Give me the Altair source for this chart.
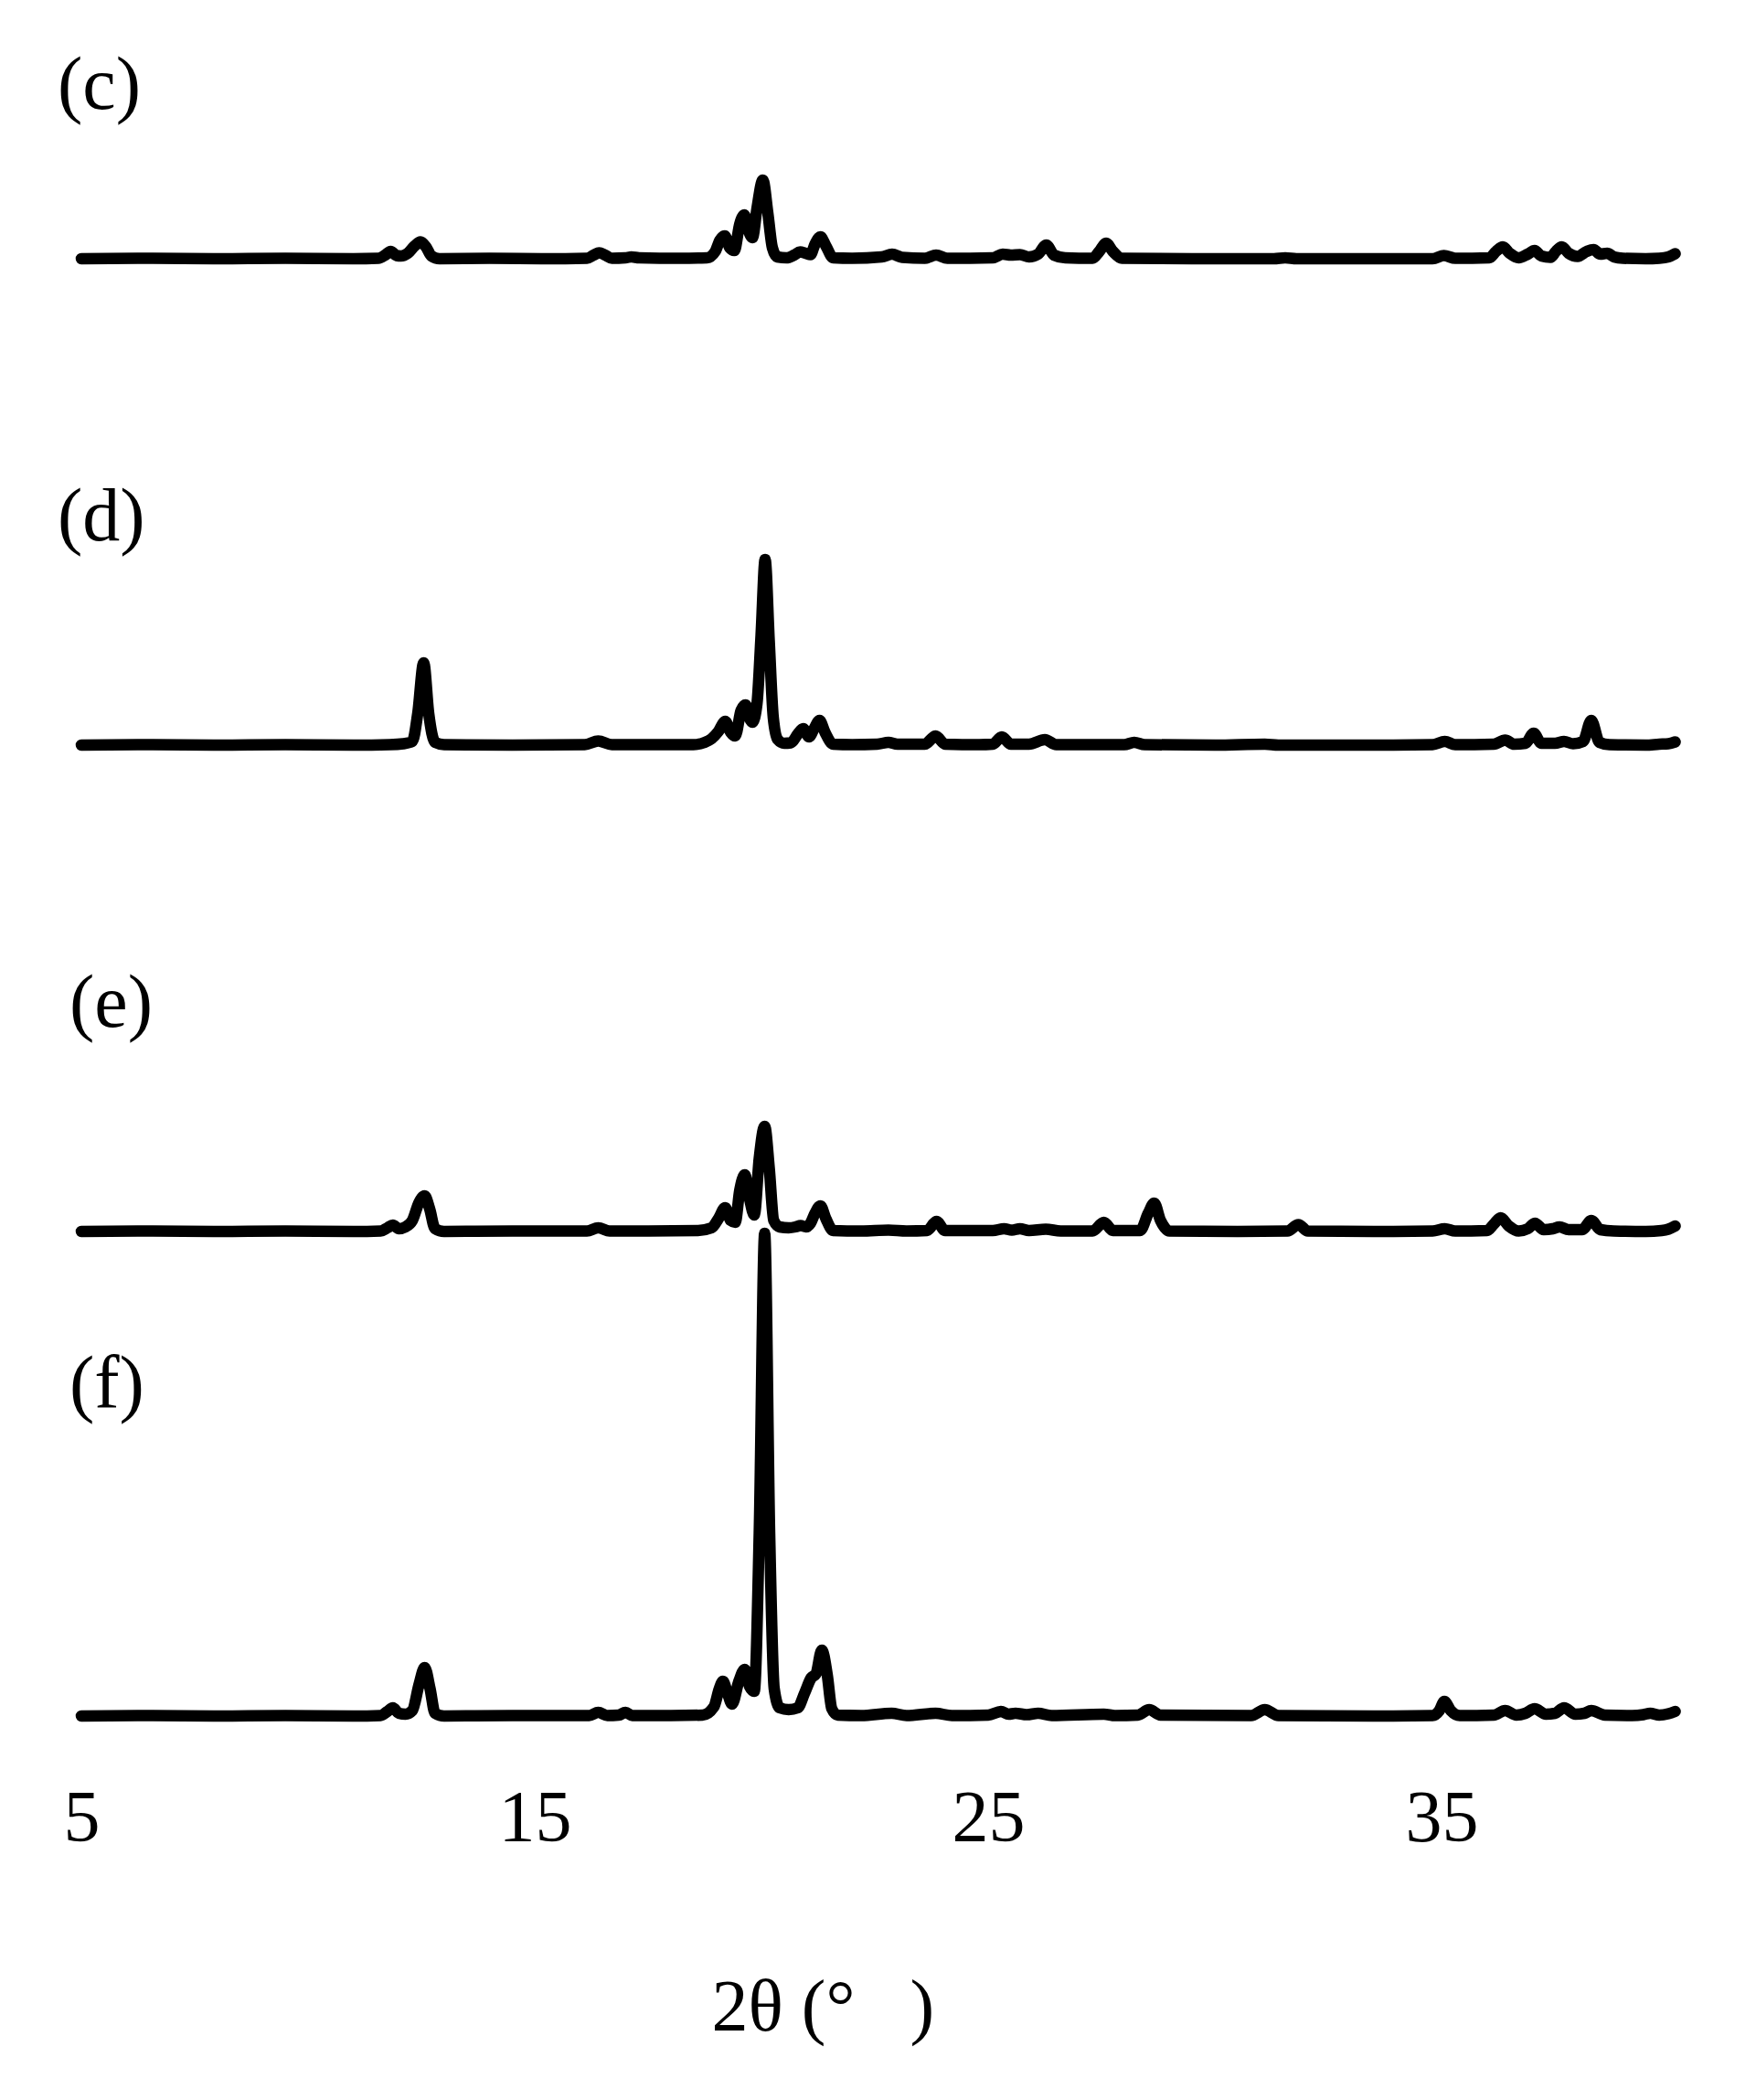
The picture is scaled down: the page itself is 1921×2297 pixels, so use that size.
import altair as alt
import pandas as pd

# 2-theta (deg) and intensity (arbitrary units)
c_x = [5.0, 6.5, 8.0, 9.5, 11.0, 11.55, 11.7, 11.82, 11.95, 12.05, 12.2, 12.35, 12.48, 12.6, 12.72, 12.9, 14.0, 15.2, 16.15, 16.3, 16.42, 16.55, 16.7, 17.0, 17.13, 17.3, 18.2, 18.8, 18.98, 19.08, 19.19, 19.3, 19.4, 19.52, 19.62, 19.72, 19.8, 19.9, 20.03, 20.14, 20.24, 20.35, 20.55, 20.72, 20.85, 20.97, 21.08, 21.18, 21.3, 21.42, 21.58, 22.0, 22.65, 22.88, 23.1, 23.6, 23.85, 24.1, 25.1, 25.32, 25.5, 25.7, 25.9, 26.1, 26.28, 26.45, 26.7, 27.3, 27.45, 27.6, 27.75, 27.95, 29.5, 31.3, 31.55, 31.8, 33.5, 34.8, 35.05, 35.3, 36.05, 36.2, 36.35, 36.5, 36.7, 36.9, 37.05, 37.2, 37.4, 37.52, 37.65, 37.8, 38.0, 38.2, 38.35, 38.5, 38.65, 38.8, 39.0, 39.5, 39.8, 40.0, 40.15]
c_y = [0, 0.5, 0, 0.5, 0, 0.5, 4, 8, 3.5, 3, 6, 14, 18.5, 13, 3, 0, 0.5, 0, 0.5, 4, 6.5, 4, 0.5, 1, 2, 1, 0.5, 1, 8, 20, 25, 12, 9, 38, 48, 30, 23, 55, 86, 50, 12, 2, 1, 4, 7.5, 6, 4.5, 16, 24, 14, 1, 0.5, 2, 5, 1.5, 0.5, 4, 0.5, 1, 5, 4, 4.5, 2, 5, 15, 4, 1, 0.5, 8, 17, 8, 0.5, 0, 0, 1, 0, 0, 0, 3.5, 0.5, 1, 8, 13, 6, 1, 5, 9, 3, 1.5, 8, 13, 6, 2.5, 8, 10, 5, 6, 2, 0.5, 0, 0.5, 2, 5.5]

d_x = [5.0, 6.5, 8.0, 9.5, 11.0, 11.8, 12.1, 12.3, 12.42, 12.55, 12.66, 12.8, 13.0, 14.5, 16.1, 16.4, 16.7, 17.5, 18.5, 18.75, 18.9, 19.05, 19.2, 19.32, 19.42, 19.55, 19.65, 19.73, 19.8, 19.9, 19.99, 20.08, 20.17, 20.26, 20.36, 20.5, 20.65, 20.8, 20.92, 21.05, 21.15, 21.28, 21.4, 21.58, 22.0, 22.55, 22.8, 23.0, 23.6, 23.84, 24.05, 24.8, 25.1, 25.3, 25.5, 25.9, 26.25, 26.5, 27.2, 28.0, 28.22, 28.45, 30.0, 31.1, 31.4, 33.5, 34.8, 35.07, 35.3, 36.15, 36.4, 36.6, 36.85, 37.03, 37.2, 37.5, 37.7, 37.9, 38.12, 38.3, 38.48, 38.7, 39.5, 39.8, 40.0, 40.15]
d_y = [0, 0.5, 0, 0.5, 0, 0.5, 1.5, 4, 35, 90, 35, 3, 0.5, 0, 0.5, 4.5, 0.5, 0.5, 0.5, 3, 7, 15, 26, 14, 10, 38, 44, 30, 25, 45, 120, 203, 115, 30, 6, 2, 2.5, 12, 18, 9, 17, 27, 14, 1, 0.5, 1, 3, 1, 1, 10, 1, 0.5, 1, 9, 1, 1, 6, 0.5, 0.5, 0.5, 3, 0.5, 0, 1, 0, 0, 0.5, 4, 0.5, 1, 5.5, 1, 2, 13, 2, 2, 4, 1.5, 4, 27, 3, 0.5, 0, 1, 1.5, 3.5]

e_x = [5.0, 6.5, 8.0, 9.5, 11.0, 11.6, 11.75, 11.87, 12.0, 12.15, 12.3, 12.45, 12.57, 12.68, 12.8, 13.0, 14.5, 16.15, 16.4, 16.65, 17.5, 18.6, 18.9, 19.05, 19.2, 19.32, 19.42, 19.52, 19.63, 19.74, 19.84, 19.95, 20.07, 20.17, 20.27, 20.4, 20.6, 20.75, 20.86, 20.98, 21.08, 21.18, 21.3, 21.42, 21.58, 22.2, 22.8, 23.2, 23.65, 23.86, 24.05, 25.1, 25.35, 25.52, 25.7, 25.9, 26.27, 26.6, 27.3, 27.55, 27.75, 28.35, 28.53, 28.66, 28.8, 29.0, 30.5, 31.6, 31.84, 32.05, 33.5, 34.8, 35.07, 35.3, 36.0, 36.15, 36.3, 36.48, 36.7, 36.9, 37.06, 37.25, 37.45, 37.6, 37.8, 38.1, 38.3, 38.5, 38.8, 39.5, 39.85, 40.0, 40.15]
e_y = [0, 0.5, 0, 0.5, 0, 0.5, 4, 7, 3, 5, 12, 32, 39, 25, 3, 0, 0.5, 0.5, 4, 0.5, 0.5, 1, 4, 14, 26, 12, 10, 45, 62, 35, 18, 80, 115, 70, 12, 5, 4, 5, 6.5, 5, 9, 20, 28, 14, 1, 0.5, 1.5, 0.5, 1, 11, 1, 1, 3, 1.5, 3, 1, 2.5, 0.5, 0.5, 10, 1, 1, 20, 31, 12, 0.5, 0, 0.5, 7.5, 0.5, 0, 0.5, 3, 0.5, 1, 8, 15, 6, 0.5, 3, 9, 2, 3, 5, 2, 2, 12, 2, 0.5, 0, 1, 2.5, 6]

f_x = [5.0, 6.5, 8.0, 9.5, 11.0, 11.6, 11.75, 11.87, 12.0, 12.15, 12.3, 12.45, 12.57, 12.69, 12.8, 13.0, 14.5, 16.2, 16.4, 16.6, 16.85, 17.0, 17.15, 18.0, 18.7, 18.95, 19.07, 19.15, 19.25, 19.35, 19.5, 19.63, 19.74, 19.84, 19.95, 20.07, 20.18, 20.28, 20.4, 20.6, 20.8, 20.95, 21.1, 21.2, 21.33, 21.45, 21.55, 21.68, 22.2, 22.87, 23.2, 23.84, 24.2, 25.0, 25.28, 25.45, 25.6, 25.85, 26.1, 26.4, 27.55, 27.8, 28.3, 28.55, 28.8, 30.8, 31.1, 31.4, 33.5, 34.8, 34.95, 35.06, 35.2, 35.4, 36.15, 36.4, 36.65, 36.85, 37.05, 37.3, 37.5, 37.7, 37.95, 38.15, 38.3, 38.6, 39.2, 39.45, 39.6, 39.8, 40.0, 40.15]
f_y = [0, 0.5, 0, 0.5, 0, 0.5, 5, 9, 3, 2, 6, 35, 53, 30, 3, 0, 0.5, 0.5, 4, 0.5, 1, 4, 0.5, 0.5, 1, 10, 30, 38, 25, 13, 38, 51, 32, 27, 200, 528, 200, 30, 9, 7, 9, 25, 42, 46, 72, 45, 8, 1, 0.5, 3, 0.5, 3, 0.5, 1, 5, 2, 3, 1.5, 3, 0.5, 2, 0.5, 1, 7, 1, 0.5, 7, 0.5, 0, 0.5, 6, 16, 6, 0.5, 1, 6, 1, 3, 8, 2, 3, 9, 2, 3, 6, 1, 0.5, 1.5, 3, 1, 2.5, 5]

panels = ["c", "d", "e", "f"]
panel_labels = ["(c)", "(d)", "(e)", "(f)"]
tick_values = [5, 15, 25, 35]
x_title = "2θ (°\u00a0\u00a0\u00a0)"

# vertical stacking offsets of the patterns (layout, in intensity units)
stack_offset = {"c": 1594, "d": 1062, "e": 530, "f": 0}

rows = []
for p, xs, ys in zip(panels, [c_x, d_x, e_x, f_x], [c_y, d_y, e_y, f_y]):
    for xv, yv in zip(xs, ys):
        rows.append({"panel": p, "two_theta": xv, "intensity": yv})
df = pd.DataFrame(rows)

offset_expr = " : ".join(
    [f"datum.panel == '{k}' ? {v}" for k, v in stack_offset.items()] + ["0"]
)

FONT = "Liberation Serif"

lines = (
    alt.Chart(df)
    .transform_calculate(y_plot=f"datum.intensity + ({offset_expr})")
    .mark_line(
        color="black",
        strokeWidth=12.5,
        interpolate="monotone",
        strokeCap="round",
        strokeJoin="round",
    )
    .encode(
        x=alt.X(
            "two_theta:Q",
            scale=alt.Scale(domain=[5, 40.3], nice=False, zero=False),
            axis=alt.Axis(
                values=tick_values,
                domain=False,
                ticks=False,
                tickSize=0,
                grid=False,
                labelFont=FONT,
                labelFontSize=80,
                labelColor="black",
                labelBaseline="alphabetic",
                labelPadding=123,
                labelFlush=False,
                title=x_title,
                titleFont=FONT,
                titleFontSize=80,
                titleFontWeight="normal",
                titleColor="black",
                titleAlign="left",
                titleAnchor="start",
                titleBaseline="alphabetic",
                titleX=689,
                titleY=330,
            ),
        ),
        y=alt.Y(
            "y_plot:Q",
            scale=alt.Scale(domain=[-13, 1827], nice=False, zero=False),
            axis=None,
        ),
        detail="panel:N",
    )
)

label_pos = {"(c)": (-26, 69), "(d)": (-26, 541), "(e)": (-13, 1073), "(f)": (-13, 1490)}
label_layers = []
for lab in panel_labels:
    lx, ly = label_pos[lab]
    label_layers.append(
        alt.Chart(alt.Data(values=[{"k": 1}]))
        .mark_text(
            font=FONT,
            fontSize=82,
            color="black",
            align="left",
            baseline="alphabetic",
        )
        .encode(x=alt.value(lx), y=alt.value(ly), text=alt.value(lab))
    )

chart = (
    alt.layer(lines, *label_layers)
    .properties(
        width=1751,
        height=1840,
        background="white",
        autosize=alt.AutoSizeParams(type="none"),
        padding={"left": 81, "top": 42, "right": 40, "bottom": 380},
    )
    .configure_view(strokeWidth=0, stroke="transparent")
)

chart.save("out.html", embed_options={"renderer": "svg", "actions": False})
